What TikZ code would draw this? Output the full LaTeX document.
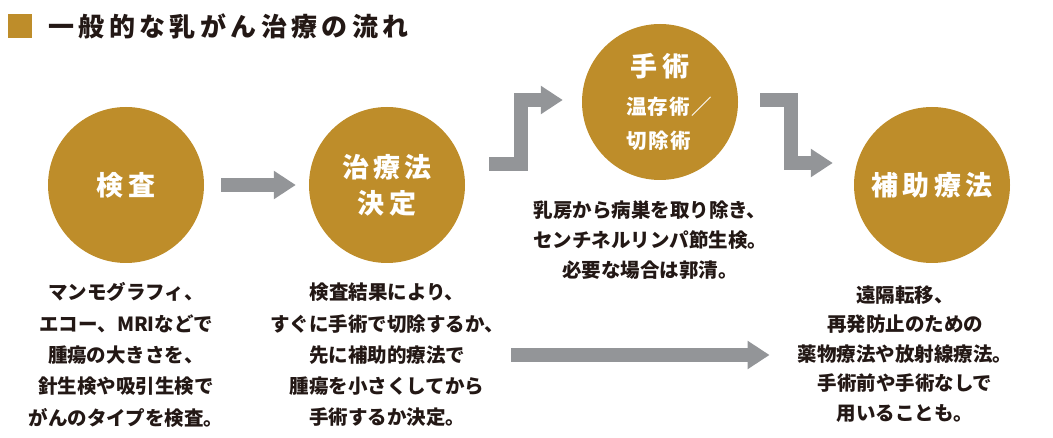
\documentclass[tikz,border=0pt]{standalone}
\usepackage{fontspec}
\setmainfont{Noto Sans CJK JP}
\newfontfamily\jptitle{Noto Sans CJK JP}[LetterSpace=17]
\newfontfamily\jpcirc{Noto Sans CJK JP}[LetterSpace=16]
\newfontfamily\jpsmall{Noto Sans CJK JP}[LetterSpace=5]
\usetikzlibrary{arrows.meta}
\definecolor{gold}{RGB}{190,141,42}
\definecolor{arrowgray}{RGB}{147,149,152}
\definecolor{ink}{RGB}{35,24,21}

\tikzset{
  stage/.style={circle, fill=gold, text=white, minimum size=156pt, inner sep=0pt,
    align=center, font=\jpcirc\bfseries\fontsize{27}{36}\selectfont},
  note/.style={text=ink, align=center, inner sep=0pt,
    font=\bfseries\fontsize{19.5}{31.3}\selectfont},
  flow/.style={draw=arrowgray, line width=14pt, -{Triangle[length=22pt,width=27pt]}},
}

\begin{document}
\begin{tikzpicture}[x=1pt,y=-1pt]
\useasboundingbox (0,0) rectangle (1053,438);

% title
\node[fill=gold, minimum size=24pt, inner sep=0pt] (mark) at (19.5,26) {};
\node[anchor=west, text=ink, inner sep=0pt, font=\jptitle\bfseries\fontsize{26}{30}\selectfont]
  (title) at (48,26) {一般的な乳がん治療の流れ};

% stages
\node[stage] (kensa)    at (126,185)                          {検査};
\node[stage] (kettei)   [right of=kensa, node distance=261pt] {治療法\\決定};
\node[stage] (shujutsu) at (660,102)
  {手術\\[2pt]
   {\jpsmall\bfseries\fontsize{20.5}{30}\selectfont\hspace*{18pt}温存術／}\\[-2pt]
   {\jpsmall\bfseries\fontsize{20.5}{30}\selectfont\hspace*{18pt}切除術\phantom{／}}};
\node[stage] (hojo)     at (932,185)                          {補助療法};

% notes
\node[note] (kensa note)  [below of=kensa, node distance=170pt]
  {マンモグラフィ、\\エコー、MRIなどで\\腫瘍の大きさを、\\針生検や吸引生検で\\がんのタイプを検査。};
\node[note] (kettei note) [below of=kettei, node distance=170pt]
  {検査結果により、\\すぐに手術で切除するか、\\先に補助的療法で\\腫瘍を小さくしてから\\手術するか決定。};
\node[note, font=\bfseries\fontsize{19.5}{30}\selectfont]
  (shujutsu note) [below of=shujutsu, node distance=138pt, xshift=-10pt]
  {乳房から病巣を取り除き、\\センチネルリンパ節生検。\\必要な場合は郭清。};
\node[note, font=\bfseries\fontsize{19.5}{29.5}\selectfont]
  (hojo note) [below of=hojo, node distance=169pt, xshift=-27pt]
  {遠隔転移、\\再発防止のための\\薬物療法や放射線療法。\\手術前や手術なしで\\用いることも。};

% arrows
\draw[flow] ([xshift=17pt]kensa.east) -- ([xshift=-13pt]kettei.west);
\draw[flow] ([xshift=24pt,yshift=21pt]kettei.east) -| ([xshift=-61pt,yshift=2pt]shujutsu.west)
  -- ([xshift=-19pt,yshift=2pt]shujutsu.west);
\draw[flow] ([xshift=22pt,yshift=2pt]shujutsu.east) -| ([xshift=-63pt,yshift=22pt]hojo.west)
  -- ([xshift=-21pt,yshift=22pt]hojo.west);
\draw[flow, shorten <=7pt, shorten >=28pt] (kettei note.east) -- (kettei note.east -| hojo note.west);
\end{tikzpicture}
\end{document}
